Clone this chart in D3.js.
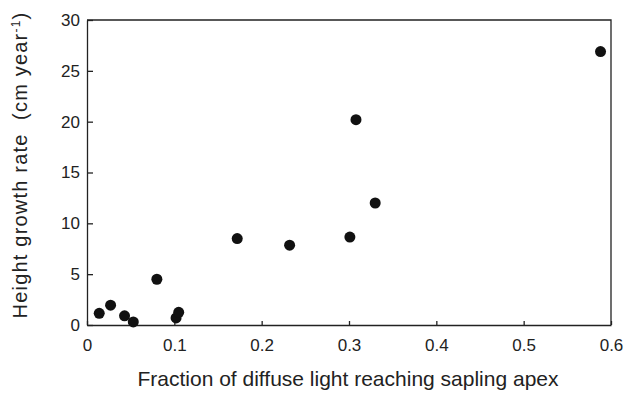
<!DOCTYPE html>
<html>
<head>
<meta charset="utf-8">
<script src="https://cdn.jsdelivr.net/npm/d3@7"></script>
<style>
  body { margin: 0; background: #fff; }
  svg text { font-family: "Liberation Sans", Arial, sans-serif; fill: #222; white-space: pre; }
</style>
</head>
<body>
<svg id="chart"></svg>
<script>
// light fraction at sapling apex vs height growth (cm/yr)
let lightFraction = [0.014, 0.027, 0.043, 0.053, 0.080, 0.102, 0.105, 0.172, 0.232, 0.301, 0.308, 0.330, 0.588]
let growthRate    = [1.15, 1.95, 0.9, 0.3, 4.5, 0.7, 1.25, 8.5, 7.85, 8.65, 20.2, 12.0, 26.9]

let xTicks = [0, 0.1, 0.2, 0.3, 0.4, 0.5, 0.6]
let xTickLabels = ['0', '0.1', '0.2', '0.3', '0.4', '0.5', '0.6']
let yTicks = [0, 5, 10, 15, 20, 25, 30]
let yTickLabels = ['0', '5', '10', '15', '20', '25', '30']

let width = 631
let height = 394
let plotLeft = 87, plotRight = 611, plotTop = 20, plotBottom = 325

let svg = d3.select('#chart').attr('width', width).attr('height', height)

let xScale = d3.scaleLinear().domain([0, 0.6]).range([plotLeft, plotRight])
let yScale = d3.scaleLinear().domain([0, 30]).range([plotBottom, plotTop])

let xAxis = d3.axisBottom(xScale)
    .tickValues(xTicks)
    .tickFormat((d, i) => xTickLabels[i])
    .tickSizeInner(-4)
    .tickSizeOuter(0)
    .tickPadding(14)

let yAxis = d3.axisLeft(yScale)
    .tickValues(yTicks)
    .tickFormat((d, i) => yTickLabels[i])
    .tickSizeInner(-6)
    .tickSizeOuter(0)
    .tickPadding(7)

let gx = svg.append('g')
    .attr('transform', 'translate(0,' + plotBottom + ')')
    .call(xAxis)
gx.selectAll('text').style('font-size', '17px')

let gy = svg.append('g')
    .attr('transform', 'translate(' + plotLeft + ',0)')
    .call(yAxis)
gy.selectAll('text').style('font-size', '17px')

svg.selectAll('.domain, .tick line').attr('stroke', '#222').attr('stroke-width', 1.3)

// top and right frame lines
svg.append('path')
    .attr('d', 'M' + plotLeft + ',' + plotTop + 'H' + plotRight + 'V' + plotBottom)
    .attr('fill', 'none')
    .attr('stroke', '#222')
    .attr('stroke-width', 1.3)

svg.selectAll('circle.pt')
    .data(lightFraction)
    .enter()
    .append('circle')
    .attr('class', 'pt')
    .attr('cx', (d) => xScale(d))
    .attr('cy', (d, i) => yScale(growthRate[i]))
    .attr('r', 5.5)
    .attr('fill', '#111')

svg.append('text')
    .attr('x', 348)
    .attr('y', 386)
    .attr('text-anchor', 'middle')
    .style('font-size', '21px')
    .text('Fraction of diffuse light reaching sapling apex')

let ylab = svg.append('text')
    .attr('transform', 'translate(27,165) rotate(-90)')
    .attr('text-anchor', 'middle')
    .style('font-size', '20px')
    .style('letter-spacing', '1.2px')
ylab.append('tspan').text('Height growth rate  (cm year')
ylab.append('tspan').attr('dy', -7).style('font-size', '12px').text('-1')
ylab.append('tspan').attr('dy', 7).text(')')
</script>
</body>
</html>
